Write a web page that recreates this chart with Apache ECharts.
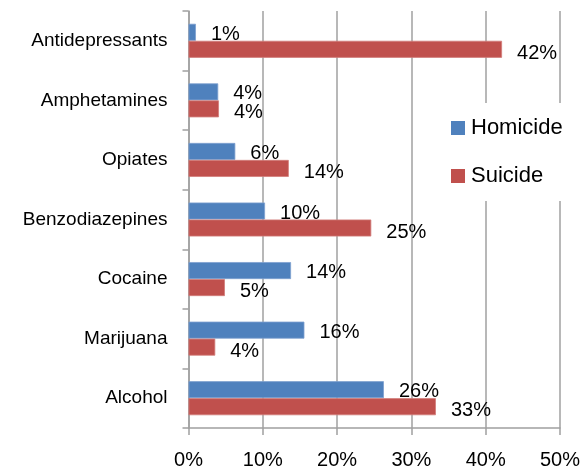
<!DOCTYPE html>
<html>
<head>
<meta charset="utf-8">
<script src="https://cdn.jsdelivr.net/npm/echarts@6/dist/echarts.min.js"></script>
<style>
html,body{margin:0;padding:0;background:#fff;}
#chart{width:583px;height:473px;}
</style>
</head>
<body>
<div id="chart"></div>
<script>
var categories = ['Alcohol', 'Marijuana', 'Cocaine', 'Benzodiazepines', 'Opiates', 'Amphetamines', 'Antidepressants'];
var homicide = [26.3, 15.6, 13.8, 10.3, 6.3, 4.0, 1.0];
var suicide = [33.3, 3.6, 4.9, 24.6, 13.5, 4.1, 42.2];
var xTicks = [0, 10, 20, 30, 40, 50];

var FONT = '"Liberation Sans", Arial, sans-serif';
var chart = echarts.init(document.getElementById('chart'), null, {renderer: 'canvas'});
var gridColor = '#a0a0a0';

function labelCfg(dy) {
  return {
    show: true,
    position: 'right',
    distance: 15,
    offset: [0, dy],
    color: '#000',
    fontFamily: FONT,
    fontSize: 20,
    formatter: function (p) { return Math.round(p.value) + '%'; }
  };
}

chart.setOption({
  animation: false,
  backgroundColor: '#fff',
  grid: {left: 188.5, right: 22, top: 11, bottom: 45, containLabel: false},
  legend: {
    orient: 'vertical',
    left: 440,
    top: 103,
    padding: [14, 12, 14, 11],
    backgroundColor: '#fff',
    itemWidth: 14,
    itemHeight: 14,
    itemGap: 26,
    icon: 'rect',
    itemStyle: {borderWidth: 0},
    textStyle: {fontFamily: FONT, fontSize: 22, color: '#000', padding: [0, 0, 0, 1]},
    data: ['Homicide', 'Suicide']
  },
  xAxis: {
    type: 'value',
    min: xTicks[0],
    max: xTicks[xTicks.length - 1],
    interval: 10,
    axisLine: {show: true, lineStyle: {color: gridColor, width: 1.5}},
    axisTick: {show: true, length: 7, lineStyle: {color: gridColor, width: 1.5}},
    splitLine: {show: true, lineStyle: {color: gridColor, width: 1.5}},
    axisLabel: {
      margin: 22,
      fontFamily: FONT, fontSize: 20, color: '#000',
      formatter: function (v) { return v + '%'; }
    }
  },
  yAxis: {
    type: 'category',
    data: categories,
    axisLine: {show: true, lineStyle: {color: gridColor, width: 1.5}},
    axisTick: {show: true, length: 6, lineStyle: {color: gridColor, width: 1.5}},
    axisLabel: {margin: 21, fontFamily: FONT, fontSize: 19, color: '#000'}
  },
  series: [
    {
      name: 'Homicide',
      type: 'bar',
      data: homicide,
      barWidth: 17,
      barGap: '0%',
      itemStyle: {color: '#4f81bd', borderColor: '#7da0cf', borderWidth: 0.8},
      label: labelCfg(2)
    },
    {
      name: 'Suicide',
      type: 'bar',
      data: suicide,
      barWidth: 17,
      barGap: '0%',
      itemStyle: {color: '#c0504d', borderColor: '#d27c7a', borderWidth: 0.8},
      label: labelCfg(4)
    }
  ]
});
</script>
</body>
</html>
